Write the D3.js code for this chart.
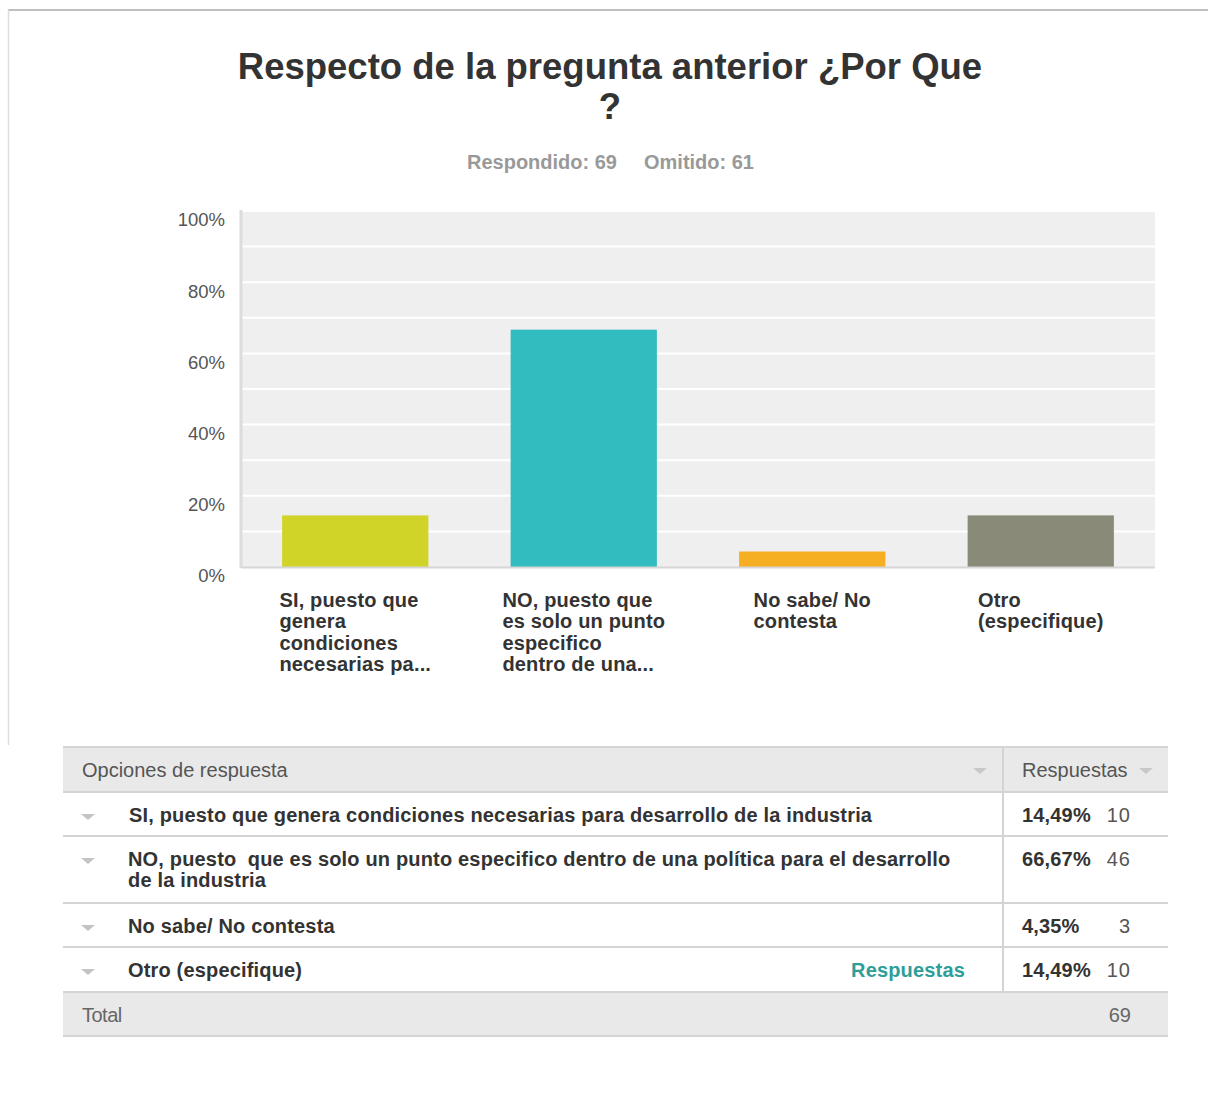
<!DOCTYPE html>
<html><head><meta charset="utf-8">
<script src="https://cdn.jsdelivr.net/npm/d3@7"></script>
<style>body{margin:0;background:#fff}svg{display:block}</style>
</head><body>
<svg id="c" width="1208" height="1105"></svg>
<script>
const categories = ["SI, puesto que genera condiciones necesarias pa...", "NO, puesto que es solo un punto especifico dentro de una...", "No sabe/ No contesta", "Otro (especifique)"];
const categoryLines = [["SI, puesto que","genera","condiciones","necesarias pa..."],["NO, puesto que","es solo un punto","especifico","dentro de una..."],["No sabe/ No","contesta"],["Otro","(especifique)"]];
const percentValues = [14.49, 66.67, 4.35, 14.49];
const counts = [10, 46, 3, 10];
const barColors = ["#d0d428", "#33bcbf", "#f6ae22", "#898a78"];
const yTicks = [0, 20, 40, 60, 80, 100];
const tableOptions = ["SI, puesto que genera condiciones necesarias para desarrollo de la industria", "NO, puesto  que es solo un punto especifico dentro de una política para el desarrollo\nde la industria", "No sabe/ No contesta", "Otro (especifique)"];
const tablePercents = ["14,49%", "66,67%", "4,35%", "14,49%"];
const totalCount = 69;
const titleLines = ["Respecto de la pregunta anterior ¿Por Que", "?"];
const answered = 69, omitted = 61;

const svg = d3.select("#c");
const F = "'Liberation Sans', Arial, sans-serif";
const FS = 20, LS = 0.17;

// frame
svg.append("line").attr("x1",8).attr("x2",1208).attr("y1",10).attr("y2",10).attr("stroke","#aaa").attr("stroke-width",1.5);
svg.append("line").attr("x1",8.5).attr("x2",8.5).attr("y1",10).attr("y2",745).attr("stroke","#ddd").attr("stroke-width",1.5);

// title
svg.selectAll("text.title").data(titleLines).join("text").attr("class","title")
  .attr("x",610).attr("y",(d,i)=>79+i*40).attr("text-anchor","middle")
  .attr("font-family",F).attr("font-weight","bold").attr("font-size",36.5).attr("fill","#333").text(d=>d);

svg.append("text").attr("x",542).attr("y",169).attr("text-anchor","middle").attr("font-family",F).attr("font-weight","bold").attr("font-size",FS).attr("fill","#999").text("Respondido: "+answered);
svg.append("text").attr("x",699).attr("y",169).attr("text-anchor","middle").attr("font-family",F).attr("font-weight","bold").attr("font-size",FS).attr("fill","#999").text("Omitido: "+omitted);

// plot
const x0 = 241, x1 = 1155, yTop = 211, yBot = 567;
const x = d3.scaleBand().domain(categories).range([x0, x1]).paddingInner(0.36).paddingOuter(0.18);
const y = d3.scaleLinear().domain([0,100]).range([yBot, yTop]);

svg.append("rect").attr("x",x0).attr("y",yTop-1).attr("width",x1-x0).attr("height",yBot-yTop+1).attr("fill","#efefef");
const grid = d3.range(10, 101, 10);
svg.append("g").selectAll("line").data(grid).join("line")
  .attr("x1",x0).attr("x2",x1).attr("y1",d=>y(d)).attr("y2",d=>y(d)).attr("stroke","#fff").attr("stroke-width",2);

svg.append("g").selectAll("rect").data(percentValues).join("rect")
  .attr("x",(d,i)=>x(categories[i])).attr("width",x.bandwidth())
  .attr("y",d=>y(d)).attr("height",d=>yBot-y(d)).attr("fill",(d,i)=>barColors[i]);

svg.append("line").attr("x1",x0).attr("x2",x1).attr("y1",yBot+0.5).attr("y2",yBot+0.5).attr("stroke","#d6d6d6").attr("stroke-width",2);
svg.append("line").attr("x1",x0).attr("x2",x0).attr("y1",yTop-1).attr("y2",yBot+1).attr("stroke","#dcdcdc").attr("stroke-width",3);

const yAxis = svg.append("g").attr("transform",`translate(${x0-16},0)`)
  .call(d3.axisLeft(y).tickValues(yTicks).tickFormat(d=>d+"%").tickSize(0).tickPadding(0));
yAxis.select(".domain").remove();
yAxis.selectAll("text").attr("font-family",F).attr("font-size",18.5).attr("fill","#555").attr("dy","0.8em");

// x labels: block centred on bar, lines left-aligned
const xl = svg.append("g");
categories.forEach((c,i)=>{
  const t = xl.append("text").attr("y",607).attr("font-family",F).attr("font-weight","bold").attr("font-size",FS).attr("fill","#333").attr("letter-spacing",LS);
  const spans = categoryLines[i].map((l,j)=>t.append("tspan").attr("dy",j?21.3:0).text(l));
  const w = d3.max(spans, s=>s.node().getComputedTextLength());
  const left = x(c) + x.bandwidth()/2 - w/2;
  spans.forEach(s=>s.attr("x",left));
});

// table
const tL = 63, tR = 1168, colDiv = 1003;
const rowTops = [747, 792, 836, 903, 947, 992, 1036];
const tg = svg.append("g");
tg.append("rect").attr("x",tL).attr("y",rowTops[0]).attr("width",tR-tL).attr("height",rowTops[1]-rowTops[0]).attr("fill","#e9e9e9");
tg.append("rect").attr("x",tL).attr("y",rowTops[5]).attr("width",tR-tL).attr("height",rowTops[6]-rowTops[5]).attr("fill","#e9e9e9");
rowTops.forEach(yy=>tg.append("line").attr("x1",tL).attr("x2",tR).attr("y1",yy).attr("y2",yy).attr("stroke","#d4d4d4").attr("stroke-width",2));
tg.append("line").attr("x1",colDiv).attr("x2",colDiv).attr("y1",rowTops[0]).attr("y2",rowTops[5]).attr("stroke","#d4d4d4").attr("stroke-width",2);

tg.append("text").attr("x",82).attr("y",777).attr("font-family",F).attr("font-size",FS).attr("fill","#555").text("Opciones de respuesta");
tg.append("text").attr("x",1022).attr("y",777).attr("font-family",F).attr("font-size",FS).attr("fill","#555").text("Respuestas");
const tri = (cx, cy, col) => tg.append("path").attr("d",`M${cx-7},${cy-3}L${cx+7},${cy-3}L${cx},${cy+3}Z`).attr("fill",col);
tri(980, 771, "#c8c8c8"); tri(1146, 771, "#c8c8c8");

tableOptions.forEach((opt,i)=>{
  const top = rowTops[i+1];
  tri(88, top+25, "#c4c4c4");
  const t = tg.append("text").attr("y",top+30).attr("font-family",F).attr("font-weight","bold").attr("font-size",FS).attr("fill","#333").attr("letter-spacing",LS);
  opt.split("\n").forEach((l,j)=>t.append("tspan").attr("x",i===0?129:128).attr("dy",j?21:0).attr("xml:space","preserve").text(l));
  tg.append("text").attr("x",1022).attr("y",top+30).attr("font-family",F).attr("font-weight","bold").attr("font-size",FS).attr("fill","#333").attr("letter-spacing",LS).text(tablePercents[i]);
  tg.append("text").attr("x",1131).attr("y",top+30).attr("text-anchor","end").attr("font-family",F).attr("font-size",FS).attr("fill","#555").attr("letter-spacing",1).text(counts[i]);
});
tg.append("text").attr("x",965).attr("y",rowTops[4]+30).attr("text-anchor","end").attr("font-family",F).attr("font-weight","bold").attr("font-size",FS).attr("fill","#2e9e9a").attr("letter-spacing",LS).text("Respuestas");
tg.append("text").attr("x",82).attr("y",rowTops[5]+30).attr("font-family",F).attr("font-size",FS).attr("fill","#666").attr("letter-spacing","-0.5").text("Total");
tg.append("text").attr("x",1131).attr("y",rowTops[5]+30).attr("text-anchor","end").attr("font-family",F).attr("font-size",FS).attr("fill","#666").text(totalCount);
</script>
</body></html>
